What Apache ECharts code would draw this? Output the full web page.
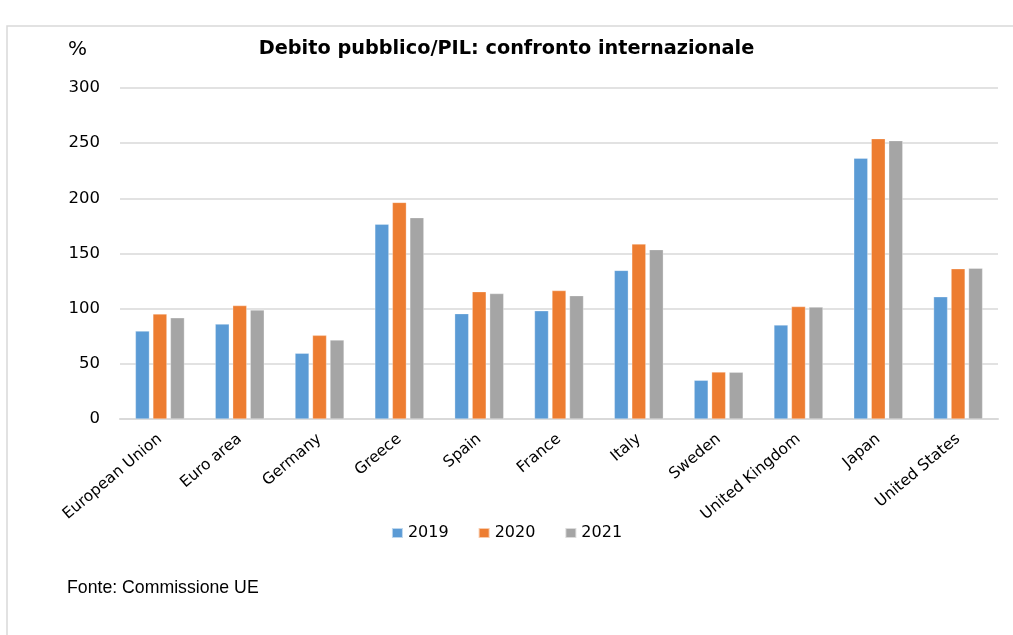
<!DOCTYPE html>
<html>
<head>
<meta charset="utf-8">
<script src="https://cdn.jsdelivr.net/npm/echarts@6/dist/echarts.min.js"></script>
<style>html,body{margin:0;padding:0;background:#fff;}#c{width:1013px;height:635px;}</style>
</head>
<body>
<div id="c"></div>
<script>
const categories = ['European Union','Euro area','Germany','Greece','Spain','France','Italy','Sweden','United Kingdom','Japan','United States'];
const years = ['2019','2020','2021'];
const v2019 = [79.7, 86.0, 59.6, 176.6, 95.5, 98.1, 134.7, 35.1, 85.2, 236.4, 110.8];
const v2020 = [95.2, 102.8, 75.8, 196.3, 115.4, 116.4, 158.6, 42.6, 101.9, 254.1, 136.2];
const v2021 = [91.7, 98.8, 71.6, 182.5, 113.7, 111.8, 153.5, 42.4, 101.4, 252.3, 136.6];
const yTicks = [0, 50, 100, 150, 200, 250, 300];
const colors = ['#5B9BD5', '#ED7D31', '#A5A5A5'];

const chart = echarts.init(document.getElementById('c'), null, {renderer: 'canvas'});
const seriesData = [v2019, v2020, v2021];
chart.setOption({
  animation: false,
  backgroundColor: '#fff',
  title: {
    text: 'Debito pubblico/PIL: confronto internazionale',
    left: 'center',
    top: 34,
    textStyle: {fontFamily: 'DejaVu Sans', fontWeight: 'bold', fontSize: 19.3, color: '#000'}
  },
  graphic: [
    {type: 'rect', shape: {x: 7, y: 26, width: 1020, height: 640}, style: {fill: 'none', stroke: '#d9d9d9', lineWidth: 1.5}, silent: true},
    {type: 'text', left: 68, top: 40, style: {text: '%', font: '20px "DejaVu Sans"', fill: '#000'}},
    {type: 'text', left: 67, top: 579, style: {text: 'Fonte: Commissione UE', font: '17.7px "Liberation Sans"', fill: '#000'}}
  ],
  legend: {
    data: years,
    top: 520,
    left: 'center',
    itemWidth: 11,
    itemHeight: 10,
    itemGap: 29,
    icon: 'rect',
    textStyle: {fontFamily: 'DejaVu Sans', fontSize: 16, color: '#000', padding: [0, 0, 0, 0]}
  },
  grid: {left: 120, right: 15, top: 88, bottom: 216, containLabel: false},
  xAxis: {
    type: 'category',
    data: categories,
    axisTick: {show: false},
    axisLine: {lineStyle: {color: '#d9d9d9', width: 2}},
    axisLabel: {rotate: 40, interval: 0, margin: 18, fontFamily: 'DejaVu Sans', fontSize: 15.5, color: '#000'}
  },
  yAxis: {
    type: 'value',
    min: yTicks[0],
    max: yTicks[yTicks.length - 1],
    interval: 50,
    axisLine: {show: false},
    axisTick: {show: false},
    splitLine: {lineStyle: {color: '#d9d9d9', width: 1.5}},
    axisLabel: {margin: 20, fontFamily: 'DejaVu Sans', fontSize: 16.5, color: '#000'}
  },
  series: years.map((y, i) => ({
    name: y,
    type: 'bar',
    data: seriesData[i],
    barWidth: 14,
    barGap: '25%',
    itemStyle: {color: colors[i], borderColor: 'rgba(255,255,255,0.6)', borderWidth: 0.5}
  }))
});
</script>
</body>
</html>
